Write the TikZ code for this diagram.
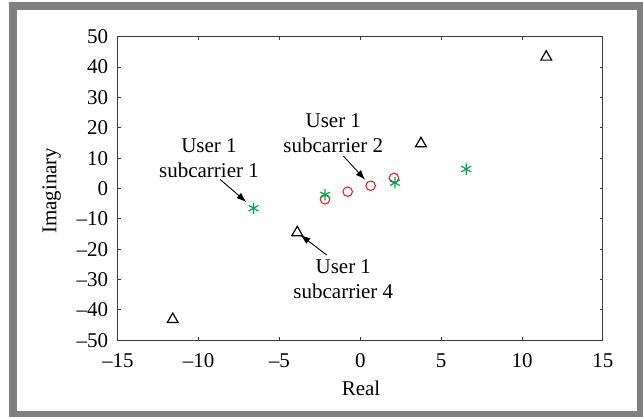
\documentclass[tikz,border=0pt]{standalone}
\usepackage{fontspec}
\setmainfont{Liberation Serif}
\usetikzlibrary{shapes.geometric,arrows.meta}
\definecolor{framegray}{RGB}{128,128,128}
\definecolor{axisgray}{RGB}{60,60,72}
\definecolor{mkred}{RGB}{236,32,40}
\definecolor{mkgreen}{RGB}{0,166,81}
\begin{document}
\begin{tikzpicture}[x=1pt,y=-1pt,
  font=\fontsize{21}{25}\selectfont,
  axisline/.style={draw=axisgray,line width=1.2pt},
  tickline/.style={draw=axisgray,line width=1pt},
  tri/.style={regular polygon,regular polygon sides=3,minimum size=12.5pt,inner sep=0pt,draw=black,line width=1.2pt},
  circ/.style={circle,minimum size=9.5pt,inner sep=0pt,draw=mkred,line width=1.1pt},
  astnode/.style={circle,minimum size=11pt,inner sep=0pt},
  astline/.style={draw=mkgreen,line width=1.2pt},
  annot/.style={align=center,inner sep=0pt},
  arr/.style={-{Latex[length=10pt,width=7pt]},line width=0.9pt,black},
  ticklabel/.style={inner sep=0pt}]
\useasboundingbox (0,0) rectangle (643,416);
% frame
\fill[framegray] (9,2) rectangle (650,420);
\fill[white] (17,10) rectangle (637,411);
% data scope
\begin{scope}[shift={(360.3,188.5)},x=16.17pt,y=3.037pt]
  \draw[axisline] (-15,-50) rectangle (15,50);
  \foreach \xv in {-15,-10,...,15} {
    \draw[tickline] (\xv,-50) -- ++(0,3pt);
    \draw[tickline] (\xv,50) -- ++(0,-3pt);
  }
  \foreach \yv in {-50,-40,...,50} {
    \draw[tickline] (-15,\yv) -- ++(3pt,0);
    \draw[tickline] (15,\yv) -- ++(-3pt,0);
  }
  \foreach \xv/\lab in {-15/--15,-10/--10,-5/--5,0/0,5/5,10/10,15/15}
    \node[ticklabel] (xl\xv) at ([yshift=-20.5pt]\xv,-50) {\lab};
  \foreach \yv/\lab in {-50/--50,-40/--40,-30/--30,-20/--20,-10/--10,0/0,10/10,20/20,30/30,40/40,50/50}
    \node[ticklabel,anchor=east] (yl\yv) at ([xshift=-9.5pt]-15,\yv) {\lab};
  % triangles
  \node[tri] (t1) at (11.5,43.3) {};
  \node[tri] (t2) at (3.75,14.8) {};
  \node[tri] (t3) at (-3.9,-14.5) {};
  \node[tri] (t4) at (-11.6,-43.1) {};
  % circles
  \node[circ] (c1) at (-2.18,-3.56) {};
  \node[circ] (c2) at (-0.78,-1.05) {};
  \node[circ] (c3) at (0.64,0.92) {};
  \node[circ] (c4) at (2.08,3.46) {};
  % asterisks
  \node[astnode] (s1) at (-6.6,-6.5) {};
  \node[astnode] (s2) at (-2.18,-2.1) {};
  \node[astnode] (s3) at (2.14,1.9) {};
  \node[astnode] (s4) at (6.55,6.4) {};
\end{scope}
\foreach \n in {s1,s2,s3,s4}
  \draw[astline] (\n.90) -- (\n.270) (\n.30) -- (\n.210) (\n.150) -- (\n.330);
% axis labels
\node (xlabel) at (361,388) {Real};
\node[rotate=90] (ylabel) at (51.7,190.8) {Imaginary};
% annotations
\node[annot] (lab1) at (209,158) {User 1\\subcarrier 1};
\node[annot] (lab2) at (333.3,133) {User 1\\subcarrier 2};
\node[annot] (lab4) at (343.3,279.5) {User 1\\subcarrier 4};
\coordinate (a1) at (220,179.3);
\coordinate (a2) at (343.3,156);
\coordinate (a4) at (326.7,255);
\draw[arr,shorten >=9.5pt] (a1) -- (s1.center);
\draw[arr,shorten >=8pt] (a2) -- (c3.center);
\draw[arr,shorten >=4pt] (a4) -- (t3.center);
\end{tikzpicture}
\end{document}
